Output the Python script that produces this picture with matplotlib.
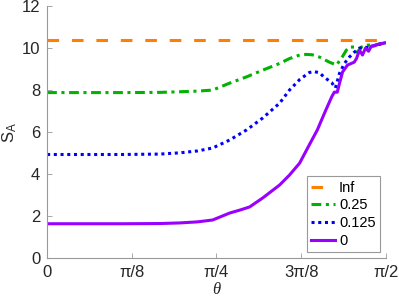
import numpy as np
import matplotlib
matplotlib.use("Agg")
import matplotlib.pyplot as plt

plt.rcParams['font.family'] = ['Liberation Sans', 'DejaVu Sans']
plt.rcParams['mathtext.fontset'] = 'custom'
plt.rcParams['mathtext.rm'] = 'Liberation Sans'
plt.rcParams['mathtext.it'] = 'Liberation Serif:italic'

# theta, in degrees (0..90 -> 0..pi/2)
theta_inf = [0, 90]
s_inf = [10.4, 10.4]

theta_025 = [0, 20, 30, 35.3, 40, 44.0, 48.5, 53.0, 57.3, 61.8, 64.4, 67.1, 68.9,
             70.5, 72.4, 75.0, 76.9, 78.5, 79.5, 80.3, 81.6, 82.4, 83.5, 85.1,
             87.0, 89.6, 90]
s_025 = [7.88, 7.88, 7.89, 7.92, 7.95, 8.0, 8.33, 8.63, 8.95, 9.27, 9.5, 9.67, 9.7,
         9.68, 9.57, 9.33, 9.19, 9.6, 9.9, 10.05, 10.05, 9.8, 10.05, 10.14,
         10.15, 10.24, 10.28]

theta_0125 = [0, 20, 30, 35.3, 40, 44.0, 48.5, 53.0, 57.3, 61.8, 64.4, 67.1, 69.7,
              71.0, 72.4, 73.7, 75.6, 76.6, 77.7, 79.0, 80.3, 81.6, 83.0, 85.6,
              89.6, 90]
s_0125 = [4.93, 4.93, 4.95, 5.01, 5.1, 5.24, 5.62, 6.1, 6.67, 7.38, 8.0, 8.5, 8.84,
          8.88, 8.82, 8.6, 8.36, 8.1, 8.8, 9.27, 9.57, 9.8, 10.0, 10.05,
          10.24, 10.27]

theta_0 = [0, 20, 30, 35.3, 40, 44.0, 48.5, 51.2, 53.8, 57.3, 61.8, 64.4, 67.1,
           70.0, 71.8, 73.7, 75.6, 76.3, 77.1, 77.7, 78.5, 79.8, 81.6, 82.2,
           83.0, 83.8, 84.6, 85.4, 86.2, 87.2, 88.3, 89.6, 90]
s_0 = [1.63, 1.63, 1.64, 1.67, 1.72, 1.81, 2.14, 2.28, 2.43, 2.86, 3.48, 3.95, 4.52,
       5.5, 6.1, 6.9, 7.67, 7.9, 7.9, 8.33, 8.86, 9.19, 9.33, 9.5,
       9.9, 9.67, 10.0, 9.85, 10.1, 10.12, 10.2, 10.24, 10.25]

xtick_labels = ['0', 'π/8', 'π/4', '3π/8', 'π/2']
yticks = [0, 2, 4, 6, 8, 10, 12]

fig = plt.figure(figsize=(3.99, 3.06), dpi=100)
ax = fig.add_axes([0.118, 0.157, 0.849, 0.823])

lw = 2.2
ax.plot(np.deg2rad(theta_inf), s_inf, color='#FF8000', lw=lw, dashes=(3.8, 4.2), label='Inf')
ax.plot(np.deg2rad(theta_025), s_025, color='#00B300', lw=lw, dashes=(3.2, 1.5, 1.0, 1.5), label='0.25')
ax.plot(np.deg2rad(theta_0125), s_0125, color='#0000FF', lw=lw, dashes=(1.0, 1.2), label='0.125')
ax.plot(np.deg2rad(theta_0), s_0, color='#9900FF', lw=lw, label='0')

ax.set_xlim(0, np.pi / 2)
ax.set_ylim(0, 12)
ax.set_xticks(np.linspace(0, np.pi / 2, 5))
ax.set_xticklabels(xtick_labels)
ax.set_yticks(yticks)

for side in ['top', 'right']:
    ax.spines[side].set_visible(False)
for side in ['left', 'bottom']:
    ax.spines[side].set_color('#999999')
    ax.spines[side].set_linewidth(0.8)
ax.tick_params(direction='in', length=3.5, width=0.6, color='#999999',
               labelsize=12, labelcolor='#262626', pad=5)

ax.set_xlabel(r'$\it{\theta}$', fontsize=12, color='#262626', labelpad=1)
ax.set_ylabel(r'S$_\mathrm{A}$', fontsize=12, color='#262626', labelpad=2)

leg = ax.legend(loc='lower right', fontsize=10.5, handlelength=1.6, handletextpad=0.3,
                labelspacing=0.25, borderpad=0.3, borderaxespad=0.4,
                fancybox=False, framealpha=1, edgecolor='#999999')
leg.get_frame().set_linewidth(0.8)

fig.savefig('out.png', dpi=100)
